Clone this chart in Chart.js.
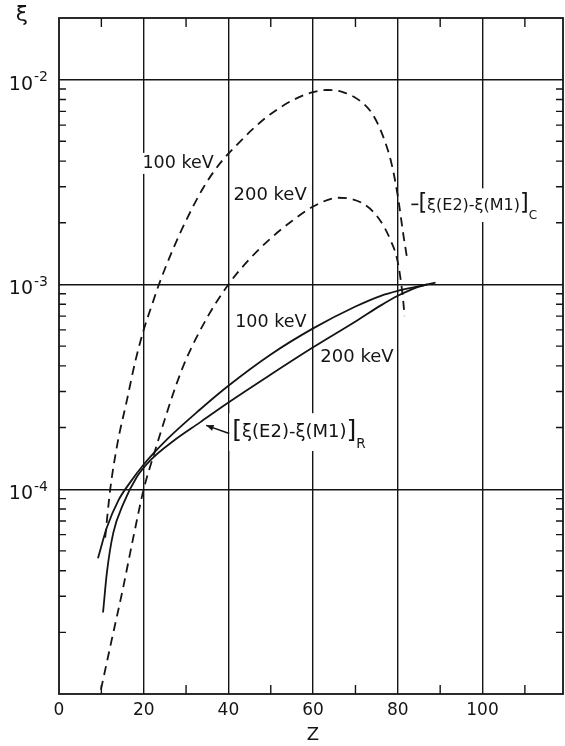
<!DOCTYPE html>
<html lang="en">
<head>
    <meta charset="UTF-8">
    <title>xi vs Z</title>
    <script src="https://cdn.jsdelivr.net/npm/chart.js"></script>
    <style>
        body { margin: 0; background: #fff; }
        canvas { display: block; }
    </style>
</head>
<body>
    <canvas id="xiChart" width="565" height="746"></canvas>
    <script>
        // dashed curves: [xi(E2)-xi(M1)]_C
        const zC100 = [10.9, 12.1, 13.8, 16, 18, 20, 22, 23.6, 27, 30, 34, 38, 42, 46, 50, 55, 60, 63.4, 67, 71, 74, 76.5, 78.5, 80, 81.3, 82.3];
        const xiC100 = [5.8e-5, 1.0e-4, 1.67e-4, 2.7e-4, 4.2e-4, 6.0e-4, 8.0e-4, 1.0e-3, 1.5e-3, 2.05e-3, 2.95e-3, 3.9e-3, 4.8e-3, 5.8e-3, 6.8e-3, 7.9e-3, 8.7e-3, 8.9e-3, 8.7e-3, 7.9e-3, 6.8e-3, 5.3e-3, 3.9e-3, 2.7e-3, 1.75e-3, 1.3e-3];
        const zC200 = [9.9, 12.5, 15, 17.5, 20, 22.5, 25, 27.5, 30, 35, 40, 45, 50, 55, 60, 66, 71.5, 75.5, 78.3, 79.9, 81.1, 81.6];
        const xiC200 = [1.05e-5, 1.86e-5, 3.2e-5, 5.75e-5, 1.0e-4, 1.5e-4, 2.2e-4, 3.16e-4, 4.3e-4, 6.9e-4, 1.0e-3, 1.33e-3, 1.68e-3, 2.04e-3, 2.4e-3, 2.65e-3, 2.5e-3, 2.1e-3, 1.64e-3, 1.31e-3, 9.0e-4, 7.0e-4];

        // solid curves: [xi(E2)-xi(M1)]_R
        const zR100 = [9.2, 11.3, 14, 16.8, 20, 25.5, 33.3, 40, 50, 60, 70, 76, 80, 84, 88.9];
        const xiR100 = [4.6e-5, 6.5e-5, 8.8e-5, 1.08e-4, 1.32e-4, 1.75e-4, 2.45e-4, 3.2e-4, 4.55e-4, 6.1e-4, 7.8e-4, 8.8e-4, 9.3e-4, 9.7e-4, 1.02e-3];
        const zR200 = [10.4, 11.3, 12.8, 15.2, 18.4, 21.5, 27, 33.3, 40, 50, 60, 70.4, 76, 80, 84, 87];
        const xiR200 = [2.5e-5, 3.9e-5, 6.1e-5, 8.5e-5, 1.15e-4, 1.38e-4, 1.72e-4, 2.12e-4, 2.65e-4, 3.63e-4, 4.93e-4, 6.67e-4, 7.9e-4, 8.8e-4, 9.6e-4, 1.0e-3];

        // axes
        const zMajor = [20, 40, 60, 80, 100];
        const zMinor = [10, 30, 50, 70, 90, 110];
        const zLabels = [0, 20, 40, 60, 80, 100];
        const xiDecades = [-4, -3, -2];

        const INK = '#141414';
        const FONT = '"DejaVu Sans"';

        function pts(zs, xis) {
            return zs.map((z, i) => ({ x: z, y: xis[i] }));
        }

        function curve(zs, xis, dashed) {
            return {
                data: pts(zs, xis),
                borderColor: INK,
                borderWidth: 1.8,
                borderDash: dashed ? [9, 6] : [],
                pointRadius: 0,
                cubicInterpolationMode: 'monotone',
                fill: false
            };
        }

        function plainLabel(ctx, text, px, py, size) {
            ctx.font = size + 'px ' + FONT;
            ctx.textAlign = 'left';
            ctx.textBaseline = 'middle';
            const w = ctx.measureText(text).width;
            ctx.fillStyle = '#fff';
            ctx.fillRect(px - 3, py - size * 0.6, w + 6, size * 1.2);
            ctx.fillStyle = INK;
            ctx.fillText(text, px, py);
        }

        function bracketLabel(ctx, px, py, size, sub, lead) {
            const inner = 'ξ(E2)-ξ(M1)';
            ctx.textAlign = 'left';
            ctx.textBaseline = 'middle';
            ctx.font = size + 'px ' + FONT;
            const wi = ctx.measureText(inner).width;
            ctx.font = (size * 1.4) + 'px ' + FONT;
            const wb = ctx.measureText('[').width;
            let x = px + (lead ? 7 : 0);
            const total = (x - px) + wb * 2 + wi + size * 0.8;
            ctx.fillStyle = '#fff';
            ctx.fillRect(px - 3, py - size, total + 6, size * 2.1);
            ctx.fillStyle = INK;
            if (lead) {
                ctx.strokeStyle = INK;
                ctx.lineWidth = 1.6;
                ctx.beginPath();
                ctx.moveTo(px, py);
                ctx.lineTo(px + 7, py);
                ctx.stroke();
            }
            ctx.font = (size * 1.4) + 'px ' + FONT;
            ctx.fillText('[', x, py);
            x += wb;
            ctx.font = size + 'px ' + FONT;
            ctx.fillText(inner, x, py + 1);
            x += wi;
            ctx.font = (size * 1.4) + 'px ' + FONT;
            ctx.fillText(']', x, py);
            x += wb;
            ctx.font = (size * 0.75) + 'px ' + FONT;
            ctx.fillText(sub, x, py + size * 0.75);
        }

        const paperPlugin = {
            id: 'paper',
            beforeDatasetsDraw(chart) {
                const ctx = chart.ctx;
                const xs = chart.scales.x, ys = chart.scales.y;
                const P = (z, xi) => [xs.getPixelForValue(z), ys.getPixelForValue(xi)];
                ctx.save();
                let p = P(19.7, 3.9e-3);
                plainLabel(ctx, '100 keV', p[0], p[1], 17.5);
                p = P(41.2, 2.72e-3);
                plainLabel(ctx, '200 keV', p[0], p[1], 18);
                p = P(41.6, 6.5e-4);
                plainLabel(ctx, '100 keV', p[0], p[1], 17.5);
                p = P(61.7, 4.4e-4);
                plainLabel(ctx, '200 keV', p[0], p[1], 18);
                p = P(83.2, 2.46e-3);
                bracketLabel(ctx, p[0], p[1], 16, 'C', true);
                p = P(40.9, 1.92e-4);
                bracketLabel(ctx, p[0], p[1], 18, 'R', false);
                ctx.restore();
            },
            afterDraw(chart) {
                const ctx = chart.ctx;
                const a = chart.chartArea;
                const xs = chart.scales.x, ys = chart.scales.y;
                ctx.save();
                ctx.strokeStyle = INK;
                ctx.fillStyle = INK;

                // frame
                ctx.lineWidth = 1.8;
                ctx.strokeRect(a.left, a.top, a.right - a.left, a.bottom - a.top);

                // inward minor ticks
                ctx.lineWidth = 1.4;
                ctx.beginPath();
                zMinor.forEach(z => {
                    const px = xs.getPixelForValue(z);
                    ctx.moveTo(px, a.bottom); ctx.lineTo(px, a.bottom - 9);
                    ctx.moveTo(px, a.top); ctx.lineTo(px, a.top + 9);
                });
                for (let d = -5; d <= -2; d++) {
                    for (let m = 2; m <= 9; m++) {
                        const v = m * Math.pow(10, d);
                        if (v >= ys.max) continue;
                        const py = ys.getPixelForValue(v);
                        ctx.moveTo(a.left, py); ctx.lineTo(a.left + 7, py);
                        ctx.moveTo(a.right, py); ctx.lineTo(a.right - 7, py);
                    }
                }
                ctx.stroke();

                // x tick labels
                ctx.font = '17px ' + FONT;
                ctx.textAlign = 'center';
                ctx.textBaseline = 'middle';
                zLabels.forEach(z => {
                    ctx.fillText(String(z), xs.getPixelForValue(z), a.bottom + 17);
                });
                ctx.font = '18px ' + FONT;
                ctx.fillText('Z', (a.left + a.right) / 2 + 2, a.bottom + 41);

                // y tick labels 10^n
                xiDecades.forEach(d => {
                    const py = ys.getPixelForValue(Math.pow(10, d));
                    ctx.font = '19px ' + FONT;
                    ctx.textAlign = 'right';
                    ctx.fillText('10', 33, py + 5);
                    ctx.font = '14px ' + FONT;
                    ctx.textAlign = 'left';
                    ctx.fillText(String(d), 34, py - 2);
                });
                ctx.font = '22px ' + FONT;
                ctx.textAlign = 'center';
                ctx.fillText('ξ', 22, 15);

                // arrow for the R label
                const t0 = [xs.getPixelForValue(40.2), ys.getPixelForValue(1.87e-4)];
                const t1 = [xs.getPixelForValue(34.75), ys.getPixelForValue(2.05e-4)];
                ctx.lineWidth = 1.5;
                ctx.beginPath();
                ctx.moveTo(t0[0], t0[1]);
                ctx.lineTo(t1[0], t1[1]);
                ctx.stroke();
                const ang = Math.atan2(t1[1] - t0[1], t1[0] - t0[0]);
                ctx.beginPath();
                ctx.moveTo(t1[0], t1[1]);
                ctx.lineTo(t1[0] - 8 * Math.cos(ang - 0.4), t1[1] - 8 * Math.sin(ang - 0.4));
                ctx.lineTo(t1[0] - 8 * Math.cos(ang + 0.4), t1[1] - 8 * Math.sin(ang + 0.4));
                ctx.closePath();
                ctx.fill();
                ctx.restore();
            }
        };

        new Chart(document.getElementById('xiChart'), {
            type: 'line',
            data: {
                datasets: [
                    curve(zC100, xiC100, true),
                    curve(zC200, xiC200, true),
                    curve(zR100, xiR100, false),
                    curve(zR200, xiR200, false)
                ]
            },
            options: {
                responsive: false,
                animation: false,
                events: [],
                layout: { padding: { top: 18, right: 2, left: 0, bottom: 0 } },
                plugins: {
                    legend: { display: false },
                    tooltip: { enabled: false }
                },
                scales: {
                    x: {
                        type: 'linear',
                        min: 0,
                        max: 119,
                        afterBuildTicks: s => { s.ticks = zMajor.map(v => ({ value: v })); },
                        afterFit: s => { s.height = 52; },
                        grid: { color: INK, lineWidth: 1.4, drawTicks: false },
                        border: { display: false },
                        ticks: { display: false }
                    },
                    y: {
                        type: 'logarithmic',
                        min: 1e-5,
                        max: 0.02,
                        afterBuildTicks: s => { s.ticks = xiDecades.map(d => ({ value: Math.pow(10, d) })); },
                        afterFit: s => { s.width = 59; },
                        grid: { color: INK, lineWidth: 1.4, drawTicks: false },
                        border: { display: false },
                        ticks: { display: false }
                    }
                }
            },
            plugins: [paperPlugin]
        });
    </script>
</body>
</html>
